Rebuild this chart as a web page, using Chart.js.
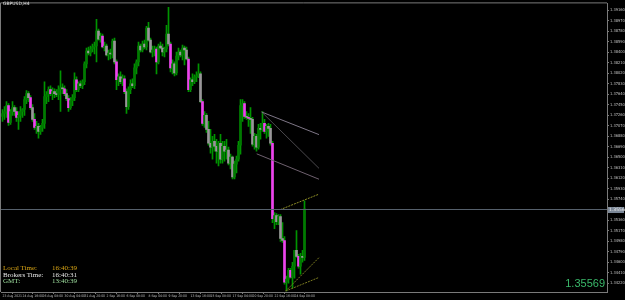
<!DOCTYPE html>
<html><head><meta charset="utf-8">
<script src="https://cdn.jsdelivr.net/npm/chart.js@4.4.1/dist/chart.umd.min.js"></script>
<style>
html,body{margin:0;padding:0;background:#000;}
#wrap{position:relative;width:625px;height:300px;overflow:hidden;background:#000;}
canvas{position:absolute;left:0;top:0;}
.t{position:absolute;white-space:nowrap;}
.info{font-family:"Liberation Serif","Times New Roman",serif;font-size:7px;line-height:7px;}
</style></head><body>
<div id="wrap">
<canvas id="c" width="625" height="300"></canvas>
<div class="t" id="sym" style="left:3px;top:1px;font:4.5px/5px 'DejaVu Sans',sans-serif;color:#e8e8e8;"></div>
<div class="t info" id="l1" style="left:3px;top:265px;color:#d9a514;"></div>
<div class="t info" id="v1" style="left:52px;top:265px;color:#d9a514;"></div>
<div class="t info" id="l2" style="left:3px;top:271.5px;color:#e8e8e8;"></div>
<div class="t info" id="v2" style="left:52px;top:271.5px;color:#e8e8e8;"></div>
<div class="t info" id="l3" style="left:3px;top:278px;color:#9fe09f;"></div>
<div class="t info" id="v3" style="left:52px;top:278px;color:#9fe09f;"></div>
<div class="t" id="bigPrice" style="right:20px;top:278px;font:11px/11px 'Liberation Sans',Arial,sans-serif;color:#3ab86a;"></div>
</div>
<script>
// ---------- data ----------
const symbolLabel = 'GBPUSD,H4';
const infoLabels = ['Local Time:', 'Brokers Time:', 'GMT:'];
const infoValues = ['16:40:39', '16:40:31', '13:40:39'];

const opens = [
1.37240,1.37293,1.37329,1.37437,1.37132,1.37329,1.37401,1.37329,1.37222,1.37258,
1.37329,1.37365,1.37545,1.37653,1.37581,1.37401,1.37186,1.37042,1.37060,1.36970,
1.37042,1.37114,1.37599,1.37635,1.37725,1.37653,1.37689,1.37653,1.37635,1.37725,
1.37760,1.37742,1.37653,1.37563,1.37401,1.37527,1.37581,1.37904,1.37725,1.37832,
1.37796,1.37868,1.38191,1.38425,1.38389,1.38461,1.38497,1.38515,1.38784,1.38640,
1.38694,1.38497,1.38515,1.38353,1.38389,1.38371,1.38605,1.38227,1.37904,1.37958,
1.37868,1.37922,1.37689,1.37419,1.37725,1.37832,1.37796,1.38120,1.38227,1.38515,
1.38443,1.38551,1.38497,1.38838,1.38623,1.38407,1.38443,1.38461,1.38227,1.38515,
1.38479,1.38407,1.38461,1.38730,1.38551,1.38120,1.38191,1.38030,1.38335,1.38407,
1.38353,1.38479,1.38443,1.38281,1.37725,1.37904,1.37868,1.37958,1.37976,1.38012,
1.37509,1.37114,1.37258,1.37006,1.36755,1.36683,1.36791,1.36701,1.36611,1.36755,
1.36467,1.36701,1.36611,1.36629,1.36395,1.36503,1.36144,1.36378,1.36467,1.36719,
1.37437,1.37473,1.37240,1.37222,1.37204,1.37186,1.36737,1.36880,1.36683,1.37024,
1.37006,1.37114,1.36970,1.37060,1.37024,1.36755,1.35390,1.35444,1.35336,1.35426,
1.35030,1.34994,1.34240,1.34294,1.34455,1.34330,1.34527,1.34815,1.34707,1.34527,
1.34707,1.34689];

const highs = [
1.37365,1.37419,1.37509,1.37473,1.37365,1.37509,1.37437,1.37401,1.37329,1.37419,
1.37383,1.37599,1.37707,1.37689,1.37617,1.37455,1.37293,1.37150,1.37114,1.37078,
1.37186,1.37868,1.37689,1.37778,1.37796,1.37760,1.37742,1.37725,1.37796,1.38066,
1.37832,1.37796,1.37725,1.37617,1.37581,1.37635,1.38030,1.37958,1.37868,1.37886,
1.37904,1.38227,1.38479,1.38497,1.38515,1.38551,1.38587,1.38999,1.38820,1.38748,
1.38730,1.38587,1.38551,1.38443,1.38461,1.38640,1.38658,1.38263,1.38012,1.38048,
1.37994,1.37976,1.37742,1.37778,1.37904,1.37922,1.38191,1.38263,1.38587,1.38551,
1.38605,1.38623,1.38874,1.38946,1.38658,1.38515,1.38515,1.38497,1.38551,1.38587,
1.38551,1.38497,1.38892,1.39215,1.38587,1.38263,1.38227,1.38407,1.38479,1.38443,
1.38533,1.38515,1.38497,1.38317,1.37940,1.38012,1.37994,1.38048,1.38191,1.38048,
1.37545,1.37329,1.37293,1.37150,1.37006,1.36880,1.36916,1.36827,1.36791,1.36916,
1.36791,1.36791,1.36827,1.36683,1.36557,1.36521,1.36431,1.36521,1.36791,1.37545,
1.37545,1.37509,1.37329,1.37293,1.37401,1.37222,1.36934,1.36916,1.37096,1.37114,
1.37329,1.37186,1.37096,1.37114,1.37096,1.36791,1.35497,1.35480,1.35462,1.35462,
1.35318,1.35066,1.34348,1.34491,1.34491,1.34599,1.34815,1.35174,1.34743,1.34761,
1.34815,1.35713];

const lows = [
1.37150,1.37186,1.37222,1.37078,1.37096,1.37258,1.37258,1.37150,1.37006,1.37150,
1.37222,1.37258,1.37473,1.37509,1.37365,1.37150,1.37006,1.36934,1.36845,1.36916,
1.36970,1.37024,1.37473,1.37509,1.37617,1.37545,1.37581,1.37599,1.37545,1.37329,
1.37653,1.37617,1.37527,1.37329,1.37365,1.37437,1.37527,1.37689,1.37689,1.37760,
1.37742,1.37814,1.38120,1.38353,1.38335,1.38407,1.38371,1.38227,1.38623,1.38587,
1.38479,1.38425,1.38335,1.38263,1.38281,1.38299,1.38191,1.37725,1.37796,1.37832,
1.37796,1.37653,1.37293,1.37365,1.37653,1.37760,1.37742,1.38012,1.38156,1.38407,
1.38407,1.38461,1.38443,1.38605,1.38389,1.38317,1.38335,1.38012,1.38191,1.38461,
1.38335,1.38317,1.38407,1.38515,1.38048,1.38012,1.37976,1.37994,1.38263,1.38317,
1.38263,1.38174,1.38263,1.37689,1.37689,1.37796,1.37832,1.37868,1.37940,1.37491,
1.37078,1.37042,1.36952,1.36719,1.36575,1.36467,1.36611,1.36395,1.36342,1.36395,
1.36395,1.36431,1.36467,1.36360,1.36288,1.36108,1.36108,1.36216,1.36431,1.36557,
1.37150,1.37204,1.37186,1.37060,1.36934,1.36701,1.36647,1.36611,1.36647,1.36827,
1.36970,1.36934,1.36845,1.36880,1.36719,1.35318,1.35210,1.35282,1.35282,1.34977,
1.34959,1.34204,1.34079,1.34222,1.34312,1.34132,1.34312,1.34689,1.34491,1.34383,
1.34599,1.34635];

const closes = [
1.37293,1.37329,1.37437,1.37132,1.37329,1.37401,1.37329,1.37222,1.37258,1.37329,
1.37365,1.37545,1.37653,1.37581,1.37401,1.37186,1.37042,1.37060,1.36970,1.37042,
1.37114,1.37599,1.37635,1.37725,1.37653,1.37689,1.37653,1.37635,1.37725,1.37760,
1.37742,1.37653,1.37563,1.37401,1.37527,1.37581,1.37904,1.37725,1.37832,1.37796,
1.37868,1.38191,1.38425,1.38389,1.38461,1.38497,1.38515,1.38784,1.38640,1.38694,
1.38497,1.38515,1.38353,1.38389,1.38371,1.38605,1.38227,1.37904,1.37958,1.37868,
1.37922,1.37689,1.37419,1.37725,1.37832,1.37796,1.38120,1.38227,1.38515,1.38443,
1.38551,1.38497,1.38838,1.38623,1.38407,1.38443,1.38461,1.38227,1.38515,1.38479,
1.38407,1.38461,1.38730,1.38551,1.38120,1.38191,1.38030,1.38335,1.38407,1.38353,
1.38479,1.38443,1.38281,1.37725,1.37904,1.37868,1.37958,1.37976,1.38012,1.37509,
1.37114,1.37258,1.37006,1.36755,1.36683,1.36791,1.36701,1.36611,1.36755,1.36467,
1.36701,1.36611,1.36629,1.36395,1.36503,1.36144,1.36378,1.36467,1.36719,1.37437,
1.37473,1.37240,1.37222,1.37204,1.37186,1.36737,1.36880,1.36683,1.37024,1.37006,
1.37114,1.36970,1.37060,1.37024,1.36755,1.35390,1.35444,1.35336,1.35426,1.35030,
1.34994,1.34240,1.34294,1.34455,1.34330,1.34527,1.34815,1.34707,1.34527,1.34707,
1.34689,1.35569];

// bearish candles drawn with a magenta body (the rest of the bearish ones are grey)
const magentaBodies = [3,7,14,16,24,31,33,37,50,57,61,77,84,93,100,121,123,131,135,141,144,148];

// time axis: candle index of each label and the label text
const xTickIdx = [0,10,20,31,41,52,62,73,83,94,104,115,125,136,146];
const xTickLabels = ['23 Aug 2021','24 Aug 16:00','26 Aug 08:00','30 Aug 04:00','31 Aug 20:00',
  '2 Sep 16:00','6 Sep 08:00','8 Sep 04:00','9 Sep 20:00','13 Sep 16:00','15 Sep 08:00',
  '17 Sep 04:00','20 Sep 20:00','22 Sep 16:00','24 Sep 08:00'];

// price axis
const yTickValues = [1.39160,1.38970,1.38780,1.38590,1.38400,1.38210,1.38020,1.37830,1.37640,
  1.37450,1.37260,1.37070,1.36880,1.36690,1.36500,1.36310,1.36120,1.35930,1.35740,1.35550,
  1.35360,1.35170,1.34980,1.34790,1.34600,1.34410,1.34220];
const priceMin = 1.34061, priceMax = 1.39287;
const barsMin = -0.75, barsMax = 302.25;

// trend lines (start candle index / price, end candle index / price)
const trendX1 = [129.6, 129.6, 127.1, 138.75, 141.6, 141.6];
const trendY1 = [1.37320, 1.37320, 1.36563, 1.35551, 1.34079, 1.34079];
const trendX2 = [158.25, 158.25, 158.25, 158.25, 158.25, 158.25];
const trendY2 = [1.36911, 1.36300, 1.36103, 1.35833, 1.34684, 1.34325];
const trendColors = ['#7e7686', '#4a484c', '#6e606e', '#8f8f26', '#7a7a20', '#7a7a20'];
const trendDash = [[], [], [], [2,1], [2,1], [2,1]];

// ---------- text ----------
document.getElementById('sym').textContent = symbolLabel;
['l1','l2','l3'].forEach((id,k)=>document.getElementById(id).textContent = infoLabels[k]);
['v1','v2','v3'].forEach((id,k)=>document.getElementById(id).textContent = infoValues[k]);
const lastPrice = closes[closes.length-1];
document.getElementById('bigPrice').textContent = lastPrice.toFixed(5);

// ---------- chart ----------
const BULL_WICK = '#009400', BULL_BODY = '#007a00', MAG = '#f040f0', GREY = '#9a949a';
const idx = opens.map((_, i) => i);
const wickData = idx.map(i => ({x: i, y: [lows[i], highs[i]]}));
const bodyData = idx.map(i => ({x: i, y: [opens[i], closes[i]]}));
const bodyColor = ctx => {
  const i = ctx.dataIndex;
  if (closes[i] >= opens[i]) return BULL_BODY;
  return magentaBodies.includes(i) ? MAG : GREY;
};

const trendSets = trendX1.map((x, k) => ({
  type: 'line',
  data: [{x: x, y: trendY1[k]}, {x: trendX2[k], y: trendY2[k]}],
  borderColor: trendColors[k], borderWidth: 1, borderDash: trendDash[k],
  pointRadius: 0, tension: 0, fill: false, order: 0
}));

const frame = {
  id: 'frame',
  beforeDraw(chart) {
    const {ctx} = chart;
    ctx.save();
    ctx.fillStyle = '#000';
    ctx.fillRect(0, 0, chart.width, chart.height);
    ctx.restore();
  },
  afterDatasetsDraw(chart) {
    const {ctx, chartArea: a, scales} = chart;
    ctx.save();
    ctx.strokeStyle = '#7a7a7a';
    ctx.lineWidth = 1;
    ctx.beginPath();
    ctx.moveTo(a.left - 0.5, a.bottom); ctx.lineTo(a.left - 0.5, a.top - 0.5); ctx.lineTo(a.right, a.top - 0.5);
    ctx.stroke();
    // bid line
    const y = Math.round(scales.y.getPixelForValue(lastPrice)) + 0.5;
    ctx.strokeStyle = '#56606c';
    ctx.beginPath(); ctx.moveTo(a.left, y); ctx.lineTo(a.right, y); ctx.stroke();
    // price tag on axis
    ctx.fillStyle = '#7c8898';
    ctx.fillRect(a.right + 1, y - 2.5, 16, 6);
    ctx.fillStyle = '#f0f0f0';
    ctx.font = '4.5px "DejaVu Sans"';
    ctx.textBaseline = 'middle';
    ctx.fillText(lastPrice.toFixed(5), a.right + 2, y + 0.5);
    ctx.restore();
  }
};

new Chart(document.getElementById('c'), {
  type: 'bar',
  data: {
    datasets: [
      {data: wickData, backgroundColor: BULL_WICK, barThickness: 1, grouped: false, order: 2, borderWidth: 0},
      {data: bodyData, backgroundColor: bodyColor, barThickness: 2, grouped: false, order: 1, borderWidth: 0},
      ...trendSets
    ]
  },
  options: {
    responsive: false, animation: false, devicePixelRatio: 1,
    layout: {padding: {left: 1, top: 1, right: 0, bottom: 0}},
    plugins: {legend: {display: false}, tooltip: {enabled: false}},
    scales: {
      x: {
        type: 'linear', min: barsMin, max: barsMax, offset: false,
        afterBuildTicks: s => { s.ticks = xTickIdx.map(v => ({value: v})); },
        afterFit: s => { s.height = 8; },
        ticks: {
          autoSkip: false, maxRotation: 0, minRotation: 0, align: 'start', padding: 0,
          color: '#c0c0c0', font: {family: 'DejaVu Sans Condensed', size: 3.4},
          callback: v => xTickLabels[xTickIdx.indexOf(v)] ?? ''
        },
        grid: {display: true, drawOnChartArea: false, drawTicks: true, tickLength: 2, color: '#7a7a7a'},
        border: {display: true, color: '#7a7a7a'}
      },
      y: {
        type: 'linear', position: 'right', min: priceMin, max: priceMax,
        afterBuildTicks: s => { s.ticks = yTickValues.map(v => ({value: v})); },
        afterFit: s => { s.width = 18; },
        ticks: {
          autoSkip: false, padding: 1, color: '#c0c0c0',
          font: {family: 'DejaVu Sans Condensed', size: 4},
          callback: v => Number(v).toFixed(5)
        },
        grid: {display: true, drawOnChartArea: false, drawTicks: true, tickLength: 2, color: '#7a7a7a'},
        border: {display: true, color: '#7a7a7a'}
      }
    }
  },
  plugins: [frame]
});
</script>
</body></html>
